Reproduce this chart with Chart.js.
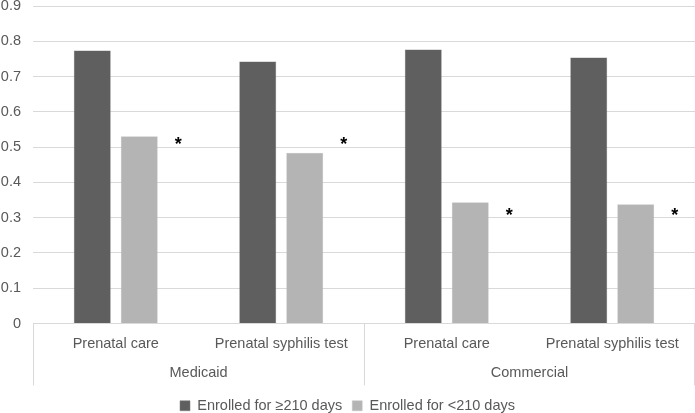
<!DOCTYPE html>
<html>
<head>
<meta charset="utf-8">
<script src="https://cdn.jsdelivr.net/npm/chart.js@4"></script>
<style>
  html, body { margin: 0; padding: 0; background: #fff; }
  #wrap { width: 695px; height: 413px; }
</style>
</head>
<body>
<div id="wrap"><canvas id="chart"></canvas></div>
<script>
/* ===== DATA ===== */
const categories = ['Prenatal care', 'Prenatal syphilis test', 'Prenatal care', 'Prenatal syphilis test'];
const groups = ['Medicaid', 'Commercial'];
const enrolledLong = [0.774, 0.743, 0.777, 0.754];
const enrolledShort = [0.531, 0.484, 0.344, 0.338];
const starLevels = [0.517, 0.517, 0.316, 0.316];
const yTicks = [0, 0.1, 0.2, 0.3, 0.4, 0.5, 0.6, 0.7, 0.8, 0.9];

const textColor = '#595959';
const lineColor = '#d9d9d9';
const font = 'Liberation Sans, Arial, sans-serif';
const fontSize = 14.5;

/* ===== GROUP ROW + ASTERISKS ===== */
const groupAxis = {
  id: 'groupAxis',
  afterDraw(chart) {
    const { ctx, chartArea, scales: { x, y } } = chart;
    ctx.save();
    // separators at group boundaries
    const mid = (x.getPixelForValue(1) + x.getPixelForValue(2)) / 2;
    ctx.strokeStyle = lineColor;
    ctx.lineWidth = 1;
    [chartArea.left, mid, chartArea.right - 1].forEach(px => {
      ctx.beginPath();
      ctx.moveTo(Math.round(px) + 0.5, y.getPixelForValue(0));
      ctx.lineTo(Math.round(px) + 0.5, x.bottom - 3);
      ctx.stroke();
    });
    // group labels
    ctx.fillStyle = textColor;
    ctx.font = fontSize + 'px ' + font;
    ctx.textAlign = 'center';
    ctx.textBaseline = 'middle';
    groups.forEach((g, i) => {
      const cx = (x.getPixelForValue(i * 2) + x.getPixelForValue(i * 2 + 1)) / 2;
      ctx.fillText(g, cx, x.bottom - 16);
    });
    // significance asterisks beside the short-enrolment bars
    const meta = chart.getDatasetMeta(1);
    ctx.fillStyle = '#000';
    ctx.font = 'bold 18px ' + font;
    starLevels.forEach((v, i) => {
      const bar = meta.data[i];
      ctx.fillText('*', bar.x + 39, y.getPixelForValue(v) + 4);
    });
    ctx.restore();
  }
};

/* ===== CHART ===== */
new Chart(document.getElementById('chart'), {
  type: 'bar',
  data: {
    labels: categories,
    datasets: [
      { label: 'Enrolled for \u2265210 days', data: enrolledLong, backgroundColor: '#5f5f5f', borderColor: '#7a7a7a', borderWidth: 0.5 },
      { label: 'Enrolled for <210 days', data: enrolledShort, backgroundColor: '#b4b4b4', borderColor: '#c4c4c4', borderWidth: 0.5 }
    ]
  },
  options: {
    responsive: true,
    maintainAspectRatio: false,
    animation: false,
    categoryPercentage: 0.568,
    barPercentage: 0.787,
    layout: { padding: { top: 6, right: 0, left: 0, bottom: -10 } },
    plugins: {
      tooltip: { enabled: false },
      legend: {
        position: 'bottom',
        labels: {
          color: textColor,
          font: { family: font, size: fontSize },
          boxWidth: 10, boxHeight: 10,
          padding: 10
        }
      }
    },
    scales: {
      x: {
        grid: { display: false, drawTicks: false },
        border: { display: true, color: lineColor },
        ticks: { color: textColor, font: { family: font, size: fontSize }, padding: 12, maxRotation: 0, autoSkip: false },
        afterFit: s => { s.height = 65; }
      },
      y: {
        min: 0, max: 0.9,
        afterBuildTicks: s => { s.ticks = yTicks.map(v => ({ value: v })); },
        afterFit: s => { s.width = 33; s.paddingTop = 0; },
        grid: { color: lineColor, drawTicks: false },
        border: { display: false },
        ticks: { color: textColor, font: { family: font, size: fontSize }, padding: 12, callback: v => String(+v.toFixed(1)) }
      }
    }
  },
  plugins: [groupAxis]
});
</script>
</body>
</html>
